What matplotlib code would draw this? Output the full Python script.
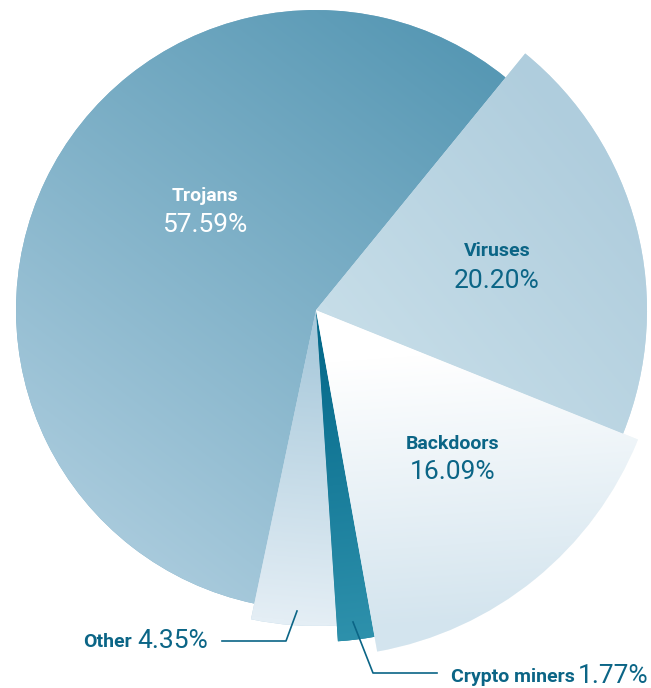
import numpy as np
import matplotlib.pyplot as plt
from matplotlib.colors import to_rgb

# data
labels = ['Trojans', 'Other', 'Crypto miners', 'Backdoors', 'Viruses']
shares = [57.59, 4.35, 1.77, 16.09, 20.20]

# each slice has its own radius in the original
radii = [300, 316, 332, 347, 331]

# gradient per slice: colour at start, colour at end, start (x, y), end (x, y) in pixels
grads = [
    ('#5798b4', '#a8cadc', (480, 60), (120, 540)),
    ('#a8c9db', '#e4eef5', (316, 330), (290, 620)),
    ('#04698a', '#2e91ac', (320, 330), (355, 640)),
    ('#ffffff', '#d3e4ee', (360, 360), (380, 630)),
    ('#c6dde8', '#afcddd', (330, 310), (570, 110)),
]

W, H = 651, 688
cx, cy = 316, 310

fig = plt.figure(figsize=(W / 100, H / 100), dpi=100)
ax = fig.add_axes([0, 0, 1, 1])

wedges, _ = ax.pie(shares, center=(cx, H - cy), radius=300, startangle=50.8,
                   counterclock=True, wedgeprops=dict(linewidth=0))

yy, xx = np.mgrid[0:H, 0:W] + 0.5
for w, r, (c0, c1, p0, p1) in zip(wedges, radii, grads):
    w.set_radius(r)
    dx, dy = p1[0] - p0[0], p1[1] - p0[1]
    t = ((xx - p0[0]) * dx + (yy - p0[1]) * dy) / (dx * dx + dy * dy)
    t = np.clip(t, 0, 1)[..., None]
    img = np.array(to_rgb(c0)) * (1 - t) + np.array(to_rgb(c1)) * t
    w.set_facecolor(img.mean(axis=(0, 1)))
    im = ax.imshow(img, extent=(0, W, 0, H), origin='upper', zorder=2)
    im.set_clip_path(w)

dark = '#0b6586'
bold_font = ['Liberation Sans Narrow', 'Roboto', 'DejaVu Sans']
num_font = ['Roboto', 'DejaVu Sans']

# labels inside slices
inside = [('Trojans', '57.59%', 205, 196, 225, 'white'),
          ('Viruses', '20.20%', 497, 251, 281, dark),
          ('Backdoors', '16.09%', 453, 444, 472, dark)]
for name, pct, x, y1, y2, col in inside:
    ax.text(x, H - y1, name, ha='center', va='center', color=col, fontsize=14,
            fontweight='bold', family=bold_font, zorder=5)
    ax.text(x, H - y2, pct, ha='center', va='center', color=col, fontsize=19,
            fontweight='normal', family=num_font, zorder=5)

# outside labels with leader lines
ax.plot([222, 286, 297], [H - 641, H - 641, H - 611], color=dark, lw=1.2, zorder=5)
ax.text(132, H - 642, 'Other', ha='right', va='center', color=dark, fontsize=14,
        fontweight='bold', family=bold_font)
ax.text(137, H - 641, '4.35%', ha='left', va='center', color=dark, fontsize=19,
        fontweight='normal', family=num_font)

ax.plot([353, 373, 437], [H - 622, H - 673, H - 673], color=dark, lw=1.2, zorder=5)
ax.text(451, H - 677, 'Crypto miners', ha='left', va='center', color=dark, fontsize=14,
        fontweight='bold', family=bold_font)
ax.text(578, H - 676, '1.77%', ha='left', va='center', color=dark, fontsize=19,
        fontweight='normal', family=num_font)

ax.set_xlim(0, W)
ax.set_ylim(0, H)
ax.set_aspect('auto')
ax.axis('off')

fig.savefig('out.png', dpi=100)
